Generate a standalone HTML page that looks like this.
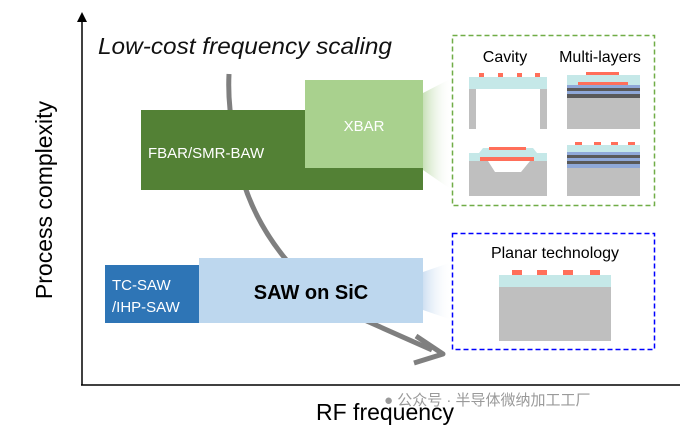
<!DOCTYPE html><html><head><meta charset="utf-8"><style>body{margin:0;background:#fff}svg{display:block}</style></head><body>
<svg width="693" height="432" viewBox="0 0 693 432" font-family="Liberation Sans, Arial, sans-serif">
<defs>
<linearGradient id="gg" x1="0" x2="1"><stop offset="0" stop-color="#c8e0b8"/><stop offset="1" stop-color="#fff" stop-opacity="0"/></linearGradient>
<linearGradient id="bg" x1="0" x2="1"><stop offset="0" stop-color="#cfe0f2"/><stop offset="1" stop-color="#fff" stop-opacity="0"/></linearGradient>
</defs>
<line x1="82" y1="385" x2="82" y2="20" stroke="#000" stroke-width="1.5"/>
<polygon points="82,12 77,22 87,22" fill="#000"/>
<line x1="81" y1="385" x2="680" y2="385" stroke="#000" stroke-width="1.5"/>
<text x="52" y="200" font-size="23" text-anchor="middle" transform="rotate(-90 52 200)">Process complexity</text>
<text x="316" y="420" font-size="23">RF frequency</text>
<text x="98" y="54" font-size="23" font-style="italic" fill="#111" textLength="294" lengthAdjust="spacingAndGlyphs">Low-cost frequency scaling</text>
<polygon points="423,93 452,78 452,190 423,170" fill="url(#gg)"/>
<polygon points="423,272 452,262 452,320 423,310" fill="url(#bg)"/>
<path d="M229,74 C228,95 229,115 240,170 C255,230 300,290 360,318 L432,350" fill="none" stroke="#7f7f7f" stroke-width="5"/>
<path d="M416,336 L443,354 L414,363" fill="none" stroke="#7f7f7f" stroke-width="5" stroke-linejoin="round"/>
<rect x="141" y="110" width="282" height="80" fill="#538135"/>
<rect x="305" y="80" width="118" height="88" fill="#a9d18e"/>
<text x="148" y="158" font-size="15" fill="#fff">FBAR/SMR-BAW</text>
<text x="364" y="131" font-size="15" fill="#fff" text-anchor="middle">XBAR</text>
<rect x="105" y="265" width="95" height="58" fill="#2e75b6"/>
<rect x="199" y="258" width="224" height="65" fill="#bdd7ee"/>
<text x="112" y="290" font-size="15" fill="#fff">TC-SAW</text>
<text x="112" y="312" font-size="15" fill="#fff">/IHP-SAW</text>
<text x="311" y="299" font-size="20" font-weight="bold" text-anchor="middle">SAW on SiC</text>
<rect x="452.5" y="35.5" width="202" height="170" fill="none" stroke="#70ad47" stroke-width="1.5" stroke-dasharray="5,3"/>
<rect x="452.5" y="233.5" width="202" height="116" fill="none" stroke="#0000ff" stroke-width="1.5" stroke-dasharray="5,3"/>
<text x="505" y="62" font-size="16" text-anchor="middle">Cavity</text>
<text x="600" y="62" font-size="16" text-anchor="middle">Multi-layers</text>
<text x="555" y="258" font-size="16" text-anchor="middle">Planar technology</text>
<rect x="469" y="77" width="78" height="12" fill="#c5e8e8"/>
<g fill="#ff6f5a"><rect x="479" y="73" width="5" height="4"/><rect x="498" y="73" width="5" height="4"/><rect x="517" y="73" width="5" height="4"/><rect x="535" y="73" width="5" height="4"/></g>
<rect x="469" y="89" width="7" height="40" fill="#bfbfbf"/><rect x="540" y="89" width="7" height="40" fill="#bfbfbf"/>
<rect x="567" y="75" width="73" height="10" fill="#c5e8e8"/>
<rect x="586" y="72" width="33" height="3" fill="#ff6f5a"/>
<rect x="578" y="82" width="50" height="3" fill="#ff6f5a"/>
<rect x="567" y="85" width="73" height="3" fill="#8fa8d8"/><rect x="567" y="88" width="73" height="3" fill="#595959"/><rect x="567" y="91" width="73" height="3" fill="#8fa8d8"/><rect x="567" y="94" width="73" height="4" fill="#595959"/>
<rect x="567" y="98" width="73" height="31" fill="#bfbfbf"/>
<polygon points="469,153 479,153 483,148 533,148 537,153 547,153 547,161 469,161" fill="#c5e8e8"/>
<rect x="489" y="147" width="37" height="3" fill="#ff6f5a"/>
<rect x="469" y="161" width="78" height="35" fill="#bfbfbf"/>
<polygon points="488,161 530,161 521,172 495,172" fill="#fff"/>
<rect x="480" y="157" width="54" height="4" fill="#ff6f5a"/>
<rect x="567" y="145" width="73" height="7" fill="#c5e8e8"/>
<g fill="#ff6f5a"><rect x="575" y="142" width="7" height="3"/><rect x="594" y="142" width="7" height="3"/><rect x="611" y="142" width="7" height="3"/><rect x="628" y="142" width="7" height="3"/></g>
<rect x="567" y="152" width="73" height="3" fill="#8fa8d8"/><rect x="567" y="155" width="73" height="3" fill="#595959"/><rect x="567" y="158" width="73" height="3" fill="#8fa8d8"/><rect x="567" y="161" width="73" height="3" fill="#595959"/><rect x="567" y="164" width="73" height="4" fill="#8fa8d8"/>
<rect x="567" y="168" width="73" height="28" fill="#bfbfbf"/>
<g fill="#ff6f5a"><rect x="512" y="270" width="10" height="5"/><rect x="537" y="270" width="10" height="5"/><rect x="563" y="270" width="10" height="5"/><rect x="590" y="270" width="10" height="5"/></g>
<rect x="499" y="275" width="112" height="12" fill="#c5e8e8"/>
<rect x="499" y="287" width="112" height="54" fill="#bfbfbf"/>
<text x="384" y="405" font-size="15" fill="#9a9a9a" font-family="Liberation Sans, Noto Sans CJK SC, sans-serif">● 公众号 · 半导体微纳加工工厂</text>
</svg>
</body></html>
